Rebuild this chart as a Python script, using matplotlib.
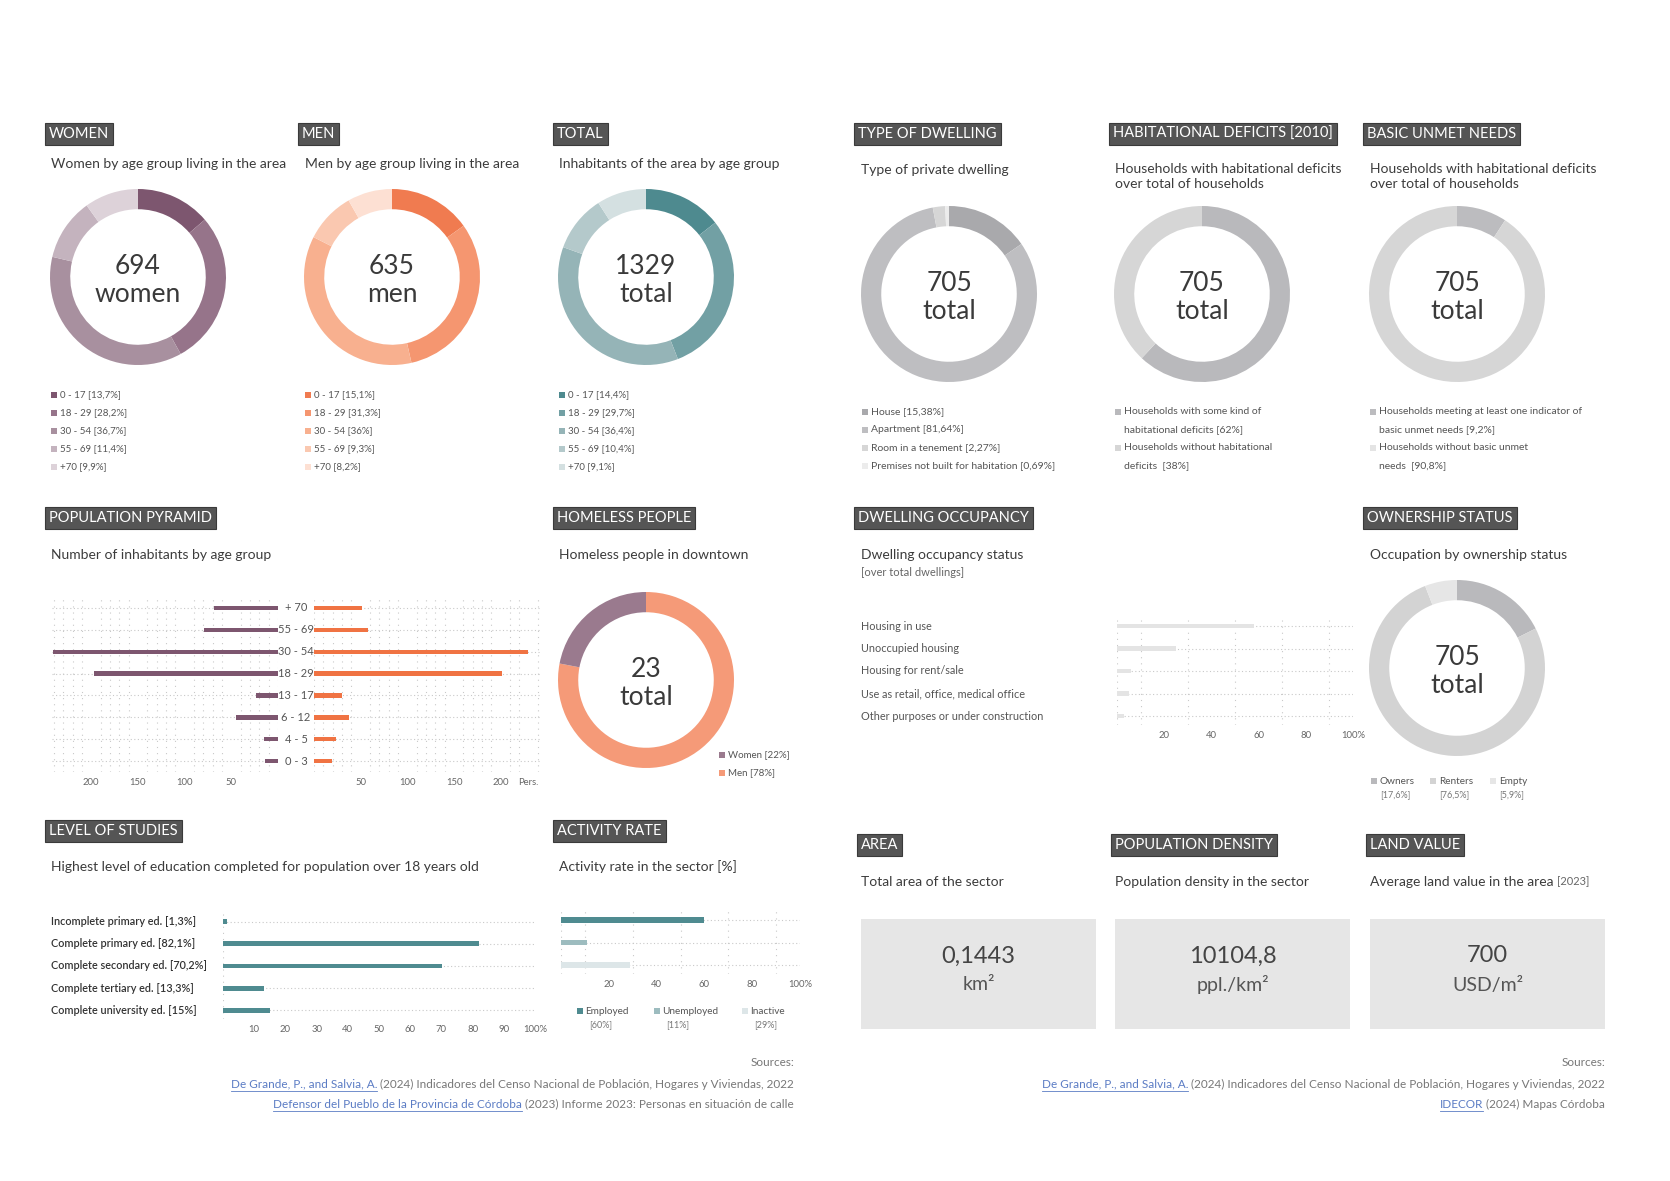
import matplotlib
matplotlib.use("Agg")
import matplotlib.pyplot as plt
from matplotlib.patches import Rectangle
from matplotlib.transforms import blended_transform_factory
import numpy as np

plt.rcParams['font.family'] = ['Lato', 'DejaVu Sans']

# ---- data ----
age_groups = ["0 - 17", "18 - 29", "30 - 54", "55 - 69", "+70"]
women_pct = [13.7, 28.2, 36.7, 11.4, 9.9]
men_pct = [15.1, 31.3, 36.0, 9.3, 8.2]
total_pct = [14.4, 29.7, 36.4, 10.4, 9.1]
women_total, men_total, people_total = 694, 635, 1329

dwelling_types = ["House", "Apartment", "Room in a tenement", "Premises not built for habitation"]
dwelling_pct = [15.38, 81.64, 2.27, 0.69]
deficit_pct = [62, 38]
nbi_pct = [9.2, 90.8]
households_total = 705

pyramid_ages = ["0 - 3", "4 - 5", "6 - 12", "13 - 17", "18 - 29", "30 - 54", "55 - 69", "+ 70"]
pyramid_women = [14, 15, 45, 24, 197, 241, 79, 69]
pyramid_men = [19, 24, 37, 30, 201, 229, 58, 51]

homeless_labels = ["Men", "Women"]
homeless_pct = [78, 22]
homeless_total = 23

occupancy_labels = ["Housing in use", "Unoccupied housing", "Housing for rent/sale",
                    "Use as retail, office, medical office", "Other purposes or under construction"]
occupancy_pct = [58, 25, 6, 5, 3]

ownership_labels = ["Owners", "Renters", "Empty"]
ownership_pct = [17.6, 76.5, 5.9]

education_labels = ["Incomplete primary ed. [1,3%]", "Complete primary ed. [82,1%]",
                    "Complete secondary ed. [70,2%]", "Complete tertiary ed. [13,3%]",
                    "Complete university ed. [15%]"]
education_pct = [1.3, 82.1, 70.2, 13.3, 15.0]

activity_labels = ["Employed", "Unemployed", "Inactive"]
activity_pct = [60, 11, 29]

indicator_values = ["0,1443", "10104,8", "700"]
indicator_units = ["km²", "ppl./km²", "USD/m²"]

# ---- colours ----
women_cols = ["#7d566f", "#96748a", "#a8909f", "#c4b3be", "#ddd2d9"]
men_cols = ["#f07b50", "#f59670", "#f8b08f", "#fac8b0", "#fde0d3"]
total_cols = ["#4e8a8f", "#72a0a4", "#95b4b7", "#b4c9cb", "#d4e0e1"]
dwelling_cols = ["#a9a9ac", "#bebec1", "#d6d6d6", "#ececec"]
deficit_cols = ["#b9b9bc", "#d6d6d6"]
nbi_cols = ["#bcbcbf", "#d6d6d6"]
own_cols = ["#b9b9bc", "#d3d3d3", "#e6e6e6"]
homeless_cols = ["#f59a78", "#9a7a8e"]
teal = "#4f8b90"
activity_cols = ["#4f8b90", "#9dbcbf", "#dde6e8"]
txt = "#3c3c3c"
grey_txt = "#555555"
grid_col = "#c9c9c9"

W, H = 1670, 1181
fig = plt.figure(figsize=(W / 100, H / 100), dpi=100)
bg = fig.add_axes([0, 0, 1, 1])
bg.set_xlim(0, W)
bg.set_ylim(H, 0)
bg.axis('off')


def px_axes(x0, y0, x1, y1):
    return fig.add_axes([x0 / W, 1 - y1 / H, (x1 - x0) / W, (y1 - y0) / H])


def tag(x, y, s):
    bg.text(x + 4, y, s, fontsize=10.5, color='white', ha='left', va='center',
            bbox=dict(boxstyle='square,pad=0.28', fc='#555555', ec='#3a3a3a', lw=0.8))


def subtitle(x, y, s, size=10, color=txt):
    bg.text(x, y, s, fontsize=size, color=color, ha='left', va='center')


def square(x, y, color, s=6):
    bg.add_patch(Rectangle((x, y - s / 2), s, s, fc=color, ec='none'))


def donut(cx, cy, values, colors, line1, line2, r=88, width=0.23):
    ax = px_axes(cx - r, cy - r, cx + r, cy + r)
    ax.pie(values, colors=colors, startangle=90, counterclock=False, radius=1,
           wedgeprops=dict(width=width, linewidth=0))
    ax.set_xlim(-1, 1)
    ax.set_ylim(-1, 1)
    ax.text(0, 0.12, line1, ha='center', va='center', fontsize=19, color='#3a3a3a')
    ax.text(0, -0.20, line2, ha='center', va='center', fontsize=19, color='#3a3a3a')
    return ax


def hbar_axes(ax, xmax=100, step=10):
    ax.set_xlim(0, xmax)
    ax.set_xticks(np.arange(0, xmax + 1, step), minor=True)
    ax.grid(True, which='minor', axis='x', color=grid_col, linestyle=(0, (1, 4.5)), lw=0.8)
    ax.grid(True, which='major', axis='y', color=grid_col, linestyle=(0, (1, 2.2)), lw=0.8)
    ax.tick_params(which='both', length=0, labelsize=6.8, labelcolor='#666666', pad=4)
    for s in ax.spines.values():
        s.set_visible(False)
    ax.set_facecolor('none')
    ax.set_axisbelow(True)


# ---- row 1: age group donuts ----
for x, name in [(45, "WOMEN"), (298, "MEN"), (553, "TOTAL"), (854, "TYPE OF DWELLING"),
                (1109, "HABITATIONAL DEFICITS [2010]"), (1363, "BASIC UNMET NEEDS")]:
    tag(x, 134, name)

subtitle(51, 164, "Women by age group living in the area")
subtitle(305, 164, "Men by age group living in the area")
subtitle(559, 164, "Inhabitants of the area by age group")

donut(138, 277, women_pct, women_cols, str(women_total), "women")
donut(392, 277, men_pct, men_cols, str(men_total), "men")
donut(646, 277, total_pct, total_cols, str(people_total), "total")

for x0, pct, cols in [(51, women_pct, women_cols), (305, men_pct, men_cols), (559, total_pct, total_cols)]:
    for i, (g, p) in enumerate(zip(age_groups, pct)):
        y = 395 + i * 18
        square(x0, y, cols[i])
        val = f"{p:g}".replace('.', ',')
        bg.text(x0 + 9, y, f"{g} [{val}%]", fontsize=7, color=grey_txt, va='center')

# ---- row 1 right: dwellings ----
subtitle(861, 170, "Type of private dwelling")
subtitle(1115, 169, "Households with habitational deficits")
subtitle(1115, 184, "over total of households")
subtitle(1370, 169, "Households with habitational deficits")
subtitle(1370, 184, "over total of households")

donut(949, 294, dwelling_pct, dwelling_cols, str(households_total), "total")
donut(1202, 294, deficit_pct, deficit_cols, str(households_total), "total")
donut(1457, 294, nbi_pct, nbi_cols, str(households_total), "total")

lfs = 7.5
for i, (t, p) in enumerate(zip(dwelling_types, dwelling_pct)):
    y = 412 + i * 18
    square(862, y, dwelling_cols[i])
    bg.text(871, y, f"{t} [{p:.2f}%]".replace('.', ','), fontsize=lfs, color=grey_txt, va='center')

square(1115, 412, deficit_cols[0])
bg.text(1124, 412, "Households with some kind of", fontsize=lfs, color=grey_txt, va='center')
bg.text(1124, 430, f"habitational deficits [{deficit_pct[0]}%]", fontsize=lfs, color=grey_txt, va='center')
square(1115, 448, deficit_cols[1])
bg.text(1124, 448, "Households without habitational", fontsize=lfs, color=grey_txt, va='center')
bg.text(1124, 466, f"deficits  [{deficit_pct[1]}%]", fontsize=lfs, color=grey_txt, va='center')

square(1370, 412, nbi_cols[0])
bg.text(1379, 412, "Households meeting at least one indicator of", fontsize=lfs, color=grey_txt, va='center')
bg.text(1379, 430, f"basic unmet needs [{nbi_pct[0]:g}%]".replace('.', ','), fontsize=lfs, color=grey_txt, va='center')
square(1370, 448, "#e4e4e4")
bg.text(1379, 448, "Households without basic unmet", fontsize=lfs, color=grey_txt, va='center')
bg.text(1379, 466, f"needs  [{nbi_pct[1]:g}%]".replace('.', ','), fontsize=lfs, color=grey_txt, va='center')

# ---- row 2: population pyramid ----
tag(45, 518, "POPULATION PYRAMID")
subtitle(51, 555, "Number of inhabitants by age group")
ypos = np.arange(len(pyramid_ages))
axl = px_axes(52, 597, 278, 772)
axr = px_axes(314, 597, 540, 772)
for ax, vals, col in [(axl, pyramid_women, "#7d566f"), (axr, pyramid_men, "#f07343")]:
    ax.barh(ypos, vals, height=0.2, color=col)
    ax.set_ylim(-0.5, 7.5)
    ax.set_yticks(ypos)
    ax.set_yticklabels([])
    hbar_axes(ax, 242)
axl.set_xlim(242, 0)
axl.set_xticks([200, 150, 100, 50])
axr.set_xticks([50, 100, 150, 200, 230])
axr.set_xticklabels(["50", "100", "150", "200", "Pers."])
lab_tr = blended_transform_factory(bg.transData, axl.transData)
for i, a in enumerate(pyramid_ages):
    axl.text(296, i, a, transform=lab_tr, ha='center', va='center', fontsize=8,
             color=grey_txt, clip_on=False)

# ---- homeless ----
tag(553, 518, "HOMELESS PEOPLE")
subtitle(559, 555, "Homeless people in downtown")
donut(646, 680, homeless_pct, homeless_cols, str(homeless_total), "total")
for i, lbl in enumerate(["Women", "Men"]):
    y = 755 + i * 18
    idx = homeless_labels.index(lbl)
    square(719, y, homeless_cols[idx])
    bg.text(728, y, f"{lbl} [{homeless_pct[idx]}%]", fontsize=7, color=grey_txt, va='center')

# ---- dwelling occupancy ----
tag(854, 518, "DWELLING OCCUPANCY")
subtitle(861, 555, "Dwelling occupancy status")
subtitle(861, 572, "[over total dwellings]", size=8, color="#666666")
axo = px_axes(1117, 617, 1353, 725)
yo = np.arange(len(occupancy_labels))
axo.barh(yo, occupancy_pct, height=0.22, color="#e4e4e4")
axo.set_ylim(4.4, -0.4)
axo.set_yticks(yo)
axo.set_yticklabels([])
hbar_axes(axo)
axo.set_xticks([20, 40, 60, 80, 100])
axo.set_xticklabels(["20", "40", "60", "80", "100%"])
occ_tr = blended_transform_factory(bg.transData, axo.transData)
for i, lbl in enumerate(occupancy_labels):
    axo.text(861, i, lbl, transform=occ_tr, ha='left', va='center', fontsize=7.8,
             color=grey_txt, clip_on=False)

# ---- ownership ----
tag(1363, 518, "OWNERSHIP STATUS")
subtitle(1370, 555, "Occupation by ownership status")
donut(1457, 668, ownership_pct, own_cols, str(households_total), "total")
for x, lbl, p, c in zip([1371, 1430, 1490], ownership_labels, ownership_pct, own_cols):
    square(x, 781, c)
    bg.text(x + 9, 781, lbl, fontsize=7.2, color=grey_txt, va='center')
    bg.text(x + 9, 795, f"[{p:g}%]".replace('.', ','), fontsize=6.5, color="#777777", va='center')

# ---- level of studies ----
tag(45, 831, "LEVEL OF STUDIES")
subtitle(51, 867, "Highest level of education completed for population over 18 years old")
axe = px_axes(223, 913, 535, 1019)
ye = np.arange(len(education_labels))
axe.barh(ye, education_pct, height=0.22, color=teal)
axe.set_ylim(4.4, -0.4)
axe.set_yticks(ye)
axe.set_yticklabels([])
hbar_axes(axe)
axe.set_xticks(np.arange(10, 101, 10))
axe.set_xticklabels([str(v) for v in range(10, 100, 10)] + ["100%"])
ed_tr = blended_transform_factory(bg.transData, axe.transData)
for i, lbl in enumerate(education_labels):
    axe.text(51, i, lbl, transform=ed_tr, ha='left', va='center', fontsize=7.8,
             color='#333333', fontweight='semibold', clip_on=False)

# ---- activity rate ----
tag(553, 831, "ACTIVITY RATE")
subtitle(559, 867, "Activity rate in the sector [%]")
axa = px_axes(561, 911, 800, 974)
ya = np.arange(len(activity_labels))
axa.barh(ya, activity_pct, height=0.24, color=activity_cols)
axa.set_ylim(2.4, -0.4)
axa.set_yticks(ya)
axa.set_yticklabels([])
hbar_axes(axa)
axa.set_xticks([20, 40, 60, 80, 100])
axa.set_xticklabels(["20", "40", "60", "80", "100%"])
for x, lbl, p, c in zip([577, 654, 742], activity_labels, activity_pct, activity_cols):
    square(x, 1011, c)
    bg.text(x + 8, 1011, lbl, fontsize=7.2, color=grey_txt, va='center')
    bg.text(x + 12, 1025, f"[{p}%]", fontsize=6.5, color="#777777", va='center')

# ---- indicators ----
for x, name in [(857, "AREA"), (1111, "POPULATION DENSITY"), (1366, "LAND VALUE")]:
    tag(x, 845, name)
subtitle(861, 882, "Total area of the sector")
subtitle(1115, 882, "Population density in the sector")
t = bg.text(1370, 882, "Average land value in the area", fontsize=10, color=txt, va='center')
r = fig.canvas.get_renderer()
bb = t.get_window_extent(r)
xe = bg.transData.inverted().transform((bb.x1, 0))[0]
bg.text(xe + 3, 882, "[2023]", fontsize=8, color="#666666", va='center')

for x0, v, u in zip([861, 1115, 1370], indicator_values, indicator_units):
    bg.add_patch(Rectangle((x0, 919), 235, 110, fc="#e6e6e6", ec='none'))
    bg.text(x0 + 117.5, 956, v, fontsize=17, color='#444444', ha='center', va='center')
    bg.text(x0 + 117.5, 985, u, fontsize=14, color='#555555', ha='center', va='center')


# ---- sources ----
def source_line(x_right, y, link, rest):
    t1 = bg.text(x_right, y, rest, ha='right', va='center', fontsize=8.5, color='#777777')
    b1 = t1.get_window_extent(r)
    x_l = bg.transData.inverted().transform((b1.x0, 0))[0]
    t2 = bg.text(x_l, y, link, ha='right', va='center', fontsize=8.5, color='#5b7cc4')
    b2 = t2.get_window_extent(r)
    x2 = bg.transData.inverted().transform((b2.x0, 0))[0]
    bg.plot([x2, x_l], [y + 7, y + 7], color='#5b7cc4', lw=0.6)


for xr in [794, 1605]:
    bg.text(xr, 1063, "Sources:", ha='right', va='center', fontsize=8.5, color='#777777')
    source_line(xr, 1084, "De Grande, P., and Salvia, A.",
                " (2024) Indicadores del Censo Nacional de Población, Hogares y Viviendas, 2022")
source_line(794, 1104, "Defensor del Pueblo de la Provincia de Córdoba",
            " (2023) Informe 2023: Personas en situación de calle")
source_line(1605, 1104, "IDECOR", " (2024) Mapas Córdoba")

fig.savefig("out.png", dpi=100)
